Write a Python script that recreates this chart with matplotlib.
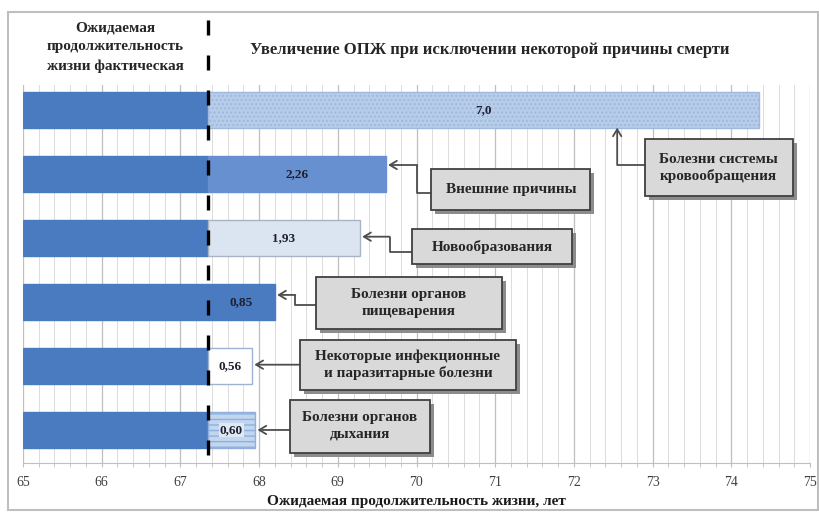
import matplotlib
matplotlib.use("Agg")
import matplotlib.pyplot as plt
from matplotlib.patches import Rectangle
from matplotlib.ticker import MultipleLocator

# data
causes = ["Болезни системы\nкровообращения",
          "Внешние причины",
          "Новообразования",
          "Болезни органов\nпищеварения",
          "Некоторые инфекционные\nи паразитарные болезни",
          "Болезни органов\nдыхания"]
gains = [7.0, 2.26, 1.93, 0.85, 0.56, 0.60]
gain_labels = ["7,0", "2,26", "1,93", "0,85", "0,56", "0,60"]
actual_le = 67.35
x_start = 65
x_ticks = list(range(65, 76))

plt.rcParams["font.family"] = ["Liberation Serif", "DejaVu Serif"]

fig = plt.figure(figsize=(8.2, 5.12), dpi=100)
ax = fig.add_axes([23 / 820, 1 - 463 / 512, 787 / 820, 378 / 512])

# pixel -> data scale for the annotation boxes
PX_X = 787 / 10
PX_Y = 378 / 5.906

ypos = list(range(len(causes)))
bar_h = 0.55

base_color = "#4a7bc0"
inc_face = ["#b7cdea", "#6690cf", "#dbe5f1", "#4a7bc0", "#ffffff", "#c3d6ef"]
inc_edge = ["#9fb8de", "#6690cf", "#a9b4c2", "#4a7bc0", "#9db3d3", "#8fb0de"]
inc_hatch = ["....", None, None, None, None, "---"]

ax.barh(ypos, [actual_le - x_start] * len(ypos), left=x_start, height=bar_h,
        color=base_color, edgecolor=base_color, zorder=3)
for i, g in enumerate(gains):
    ax.barh(ypos[i], g, left=actual_le, height=bar_h, facecolor=inc_face[i],
            edgecolor=inc_edge[i], hatch=inc_hatch[i], linewidth=1, zorder=3)
    bb = None
    if i == 5:
        bb = dict(boxstyle="square,pad=0.1", fc="#dfe8f5", ec="none")
    ax.text(actual_le + g / 2, ypos[i], gain_labels[i], ha="center", va="center",
            fontsize=9.5, fontweight="bold", color="#1f1f2f", zorder=5, bbox=bb)

# dashed line of actual life expectancy, running up into the header
ax.axvline(actual_le, ymin=0.02, ymax=(463 - 12) / 378, color="black", lw=2.4,
           linestyle=(0, (4.5, 6)), clip_on=False, zorder=6)

ax.set_xlim(65, 75)
ax.set_ylim(5.516, -0.39)
ax.set_xticks(x_ticks)
ax.xaxis.set_minor_locator(MultipleLocator(0.2))
ax.set_yticks([])
ax.grid(axis="x", which="major", color="#bfbfbf", lw=0.9, zorder=0)
ax.grid(axis="x", which="minor", color="#dcdcdc", lw=0.7, zorder=0)
for s in ["top", "right", "left"]:
    ax.spines[s].set_visible(False)
ax.spines["bottom"].set_color("#bfbfbf")
ax.tick_params(axis="x", which="both", colors="#bfbfbf", length=3, labelcolor="#404040",
               labelsize=10, pad=6)
ax.set_xlabel("Ожидаемая продолжительность жизни, лет", fontsize=11, fontweight="bold",
              labelpad=5, color="#1a1a1a")

# callout boxes: centre (data), size (px)
box_centers = [(73.84, 0.906), (71.20, 1.25), (70.96, 2.14),
               (69.90, 3.02), (69.89, 3.98), (69.28, 4.94)]
box_sizes = [(148, 57), (159, 41), (160, 35), (186, 52), (216, 50), (140, 53)]
# connector bends (data): points between box edge and arrow start
bends = [[(72.55, 0.86)],
         [(70.01, 1.30), (70.01, 0.86)],
         [(69.66, 2.22), (69.66, 1.98)],
         [(68.46, 3.05), (68.46, 2.89)],
         [],
         []]
tips_y = [0.275, 0.86, 1.98, 2.89, 3.98, 5.0]
start_y = [0.86, 1.30, 2.22, 3.05, 3.98, 5.0]

for i, name in enumerate(causes):
    cx, cy = box_centers[i]
    w = box_sizes[i][0] / PX_X
    h = box_sizes[i][1] / PX_Y
    sx, sy = 4 / PX_X, 4 / PX_Y
    ax.add_patch(Rectangle((cx - w / 2 + sx, cy - h / 2 + sy), w, h,
                           fc="#8c8c8c", ec="none", zorder=7))
    ax.add_patch(Rectangle((cx - w / 2, cy - h / 2), w, h,
                           fc="#d9d9d9", ec="#404040", lw=1.3, zorder=8))
    ax.text(cx, cy, name, ha="center", va="center", fontsize=11,
            fontweight="bold", color="#262626", linespacing=1.35, zorder=9)

    end_x = actual_le + gains[i]
    pts = [(cx - w / 2, start_y[i])] + bends[i]
    if i == 0:
        tip = (bends[i][0][0], tips_y[i])
    else:
        tip = (end_x + 0.03, tips_y[i])
    xs = [p[0] for p in pts]
    ys = [p[1] for p in pts]
    ax.plot(xs, ys, color="#4d4d4d", lw=1.3, zorder=6, solid_capstyle="butt")
    ax.annotate("", xy=tip, xytext=pts[-1],
                arrowprops=dict(arrowstyle="->,head_length=0.5,head_width=0.3",
                                color="#4d4d4d", lw=1.3, shrinkA=0, shrinkB=0),
                zorder=6)

# header texts
fig.text(115 / 820, 1 - 47 / 512, "Ожидаемая\nпродолжительность\nжизни фактическая",
         ha="center", va="center", fontsize=11, fontweight="bold",
         color="#262626", linespacing=1.6)
fig.text(490 / 820, 1 - 50 / 512,
         "Увеличение ОПЖ при исключении некоторой причины смерти",
         ha="center", va="center", fontsize=12, fontweight="bold", color="#262626")

# outer chart frame
fig.patches.append(Rectangle((8 / 820, 2 / 512), 810 / 820, 498 / 512,
                             transform=fig.transFigure, fill=False,
                             ec="#bfbfbf", lw=1.5))

fig.savefig("out.png", dpi=100)
